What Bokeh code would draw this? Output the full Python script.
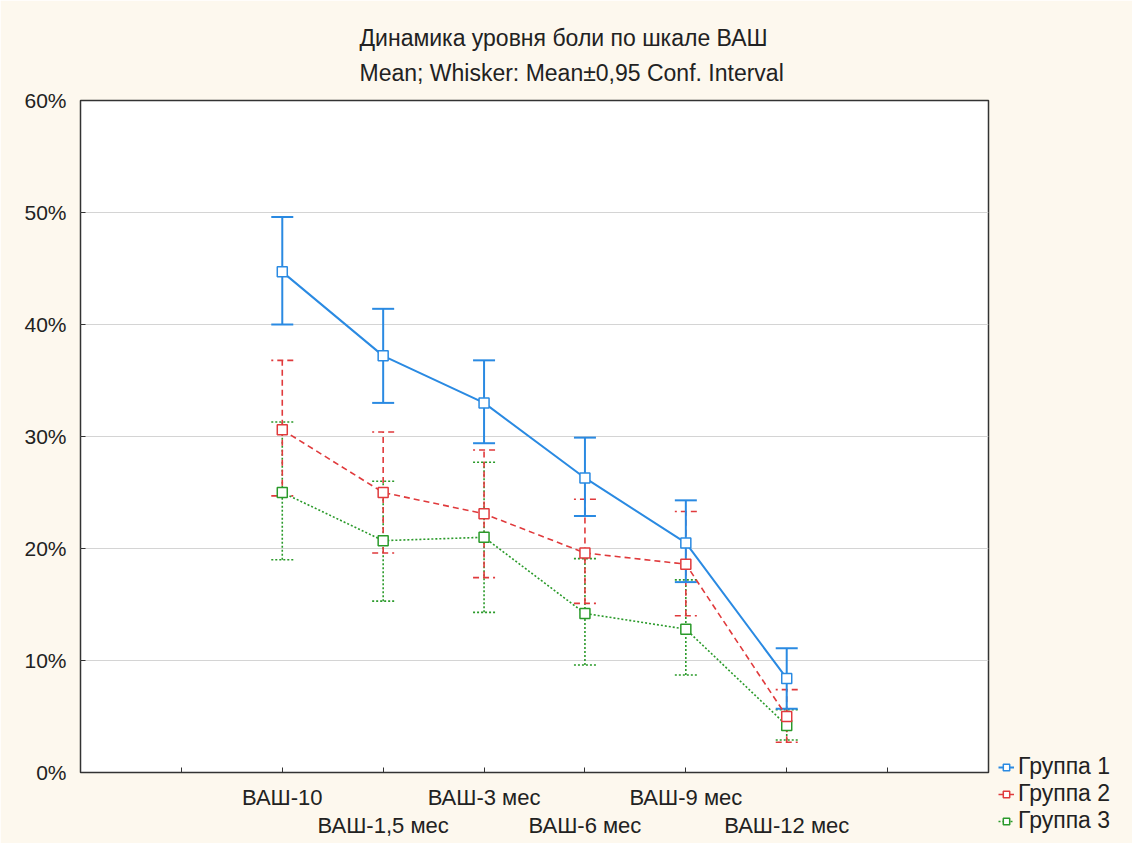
import numpy as np
from bokeh.plotting import figure
from bokeh.models import (ColumnDataSource, Whisker, TeeHead, FixedTicker, LinearAxis,
                          PrintfTickFormatter, Legend, LegendItem, Title, Range1d)
from bokeh.embed import file_html
from bokeh.resources import INLINE

# ---- data ----
categories = ["ВАШ-10", "ВАШ-1,5 мес", "ВАШ-3 мес", "ВАШ-6 мес", "ВАШ-9 мес", "ВАШ-12 мес"]
g1_mean = [44.7, 37.2, 33.0, 26.3, 20.5, 8.4]
g1_low = [40.0, 33.0, 29.4, 22.9, 17.0, 5.7]
g1_up = [49.6, 41.4, 36.8, 29.9, 24.3, 11.1]
g2_mean = [30.6, 25.0, 23.1, 19.6, 18.6, 5.0]
g2_low = [24.7, 19.6, 17.4, 15.1, 14.0, 2.7]
g2_up = [36.8, 30.4, 28.8, 24.4, 23.3, 7.4]
g3_mean = [25.0, 20.7, 21.0, 14.2, 12.8, 4.2]
g3_low = [19.0, 15.3, 14.3, 9.6, 8.7, 2.9]
g3_up = [31.3, 26.0, 27.7, 19.1, 17.2, 5.6]
group_names = ["Группа 1", "Группа 2", "Группа 3"]
y_ticks = [0, 10, 20, 30, 40, 50, 60]
title_lines = ["Динамика уровня боли по шкале ВАШ", "Mean; Whisker: Mean±0,95 Conf. Interval"]

FONT = "Liberation Sans"
FS = "22px"
TXT = "#222222"
BG = "#fdf8ee"

xpos = list(np.arange(len(categories)) + 2)

p = figure(frame_width=908, frame_height=672, output_backend="svg", toolbar_location=None,
           x_range=Range1d(0, len(categories) + 3), y_range=Range1d(0, 60),
           min_border_left=80, min_border_right=144, min_border_top=100, min_border_bottom=71,
           x_axis_location=None, title=None)
p.border_fill_color = BG
p.background_fill_color = "white"
p.outline_line_color = "#333333"
p.outline_line_width = 1.5
p.xgrid.visible = False
p.ygrid.grid_line_color = "#d4d4d4"
p.ygrid.ticker = FixedTicker(ticks=y_ticks)

# y axis
ya = p.yaxis[0]
ya.ticker = FixedTicker(ticks=y_ticks)
ya.formatter = PrintfTickFormatter(format="%d%%")
ya.axis_line_color = None
ya.major_tick_in = 5
ya.major_tick_out = 0
ya.minor_tick_line_color = None
ya.major_tick_line_color = "#333333"
ya.major_label_text_font = FONT
ya.major_label_text_font_size = "21px"
ya.major_label_text_color = TXT
ya.major_label_standoff = 14

# x axes (staggered labels)
ticks1 = list(range(1, len(categories) + 3))
over1 = {t: "" for t in ticks1}
for i, c in enumerate(categories):
    if i % 2 == 0:
        over1[int(xpos[i])] = c
xa1 = LinearAxis(ticker=FixedTicker(ticks=ticks1), major_label_overrides=over1)
xa1.axis_line_color = None
xa1.major_tick_in = 5
xa1.major_tick_out = 0
xa1.minor_tick_line_color = None
xa1.major_tick_line_color = "#333333"
xa1.major_label_text_font = FONT
xa1.major_label_text_font_size = FS
xa1.major_label_text_color = TXT
xa1.major_label_standoff = 12
p.add_layout(xa1, "below")

ticks2 = [int(xpos[i]) for i in range(len(categories)) if i % 2 == 1]
over2 = {int(xpos[i]): categories[i] for i in range(len(categories)) if i % 2 == 1}
xa2 = LinearAxis(ticker=FixedTicker(ticks=ticks2), major_label_overrides=over2)
xa2.axis_line_color = None
xa2.major_tick_line_color = None
xa2.minor_tick_line_color = None
xa2.major_label_text_font = FONT
xa2.major_label_text_font_size = FS
xa2.major_label_text_color = TXT
xa2.major_label_standoff = -6
p.add_layout(xa2, "below")

series = [
    (group_names[0], g1_mean, g1_low, g1_up, "#2a8ae2", "solid", 2.0),
    (group_names[1], g2_mean, g2_low, g2_up, "#e03a3c", "6 4", 1.6),
    (group_names[2], g3_mean, g3_low, g3_up, "#2a9a2a", "2 2", 1.6),
]

items = {}
for name, m, lo, up, col, dash, lw in reversed(series):
    src = ColumnDataSource(dict(x=xpos, m=m, lo=lo, up=up))
    w = Whisker(source=src, base="x", lower="lo", upper="up", line_color=col,
                line_width=lw, line_dash=dash,
                upper_head=TeeHead(size=22, line_color=col, line_width=lw, line_dash=dash),
                lower_head=TeeHead(size=22, line_color=col, line_width=lw, line_dash=dash))
    p.add_layout(w)
    r1 = p.line("x", "m", source=src, line_color=col, line_width=lw, line_dash=dash)
    r2 = p.scatter("x", "m", source=src, marker="square", size=10, fill_color="white",
                   line_color=col, line_width=1.5)
    items[name] = [r1, r2]

legend = Legend(items=[LegendItem(label=n, renderers=items[n]) for n in group_names],
                location=(10, -62), orientation="vertical")
legend.background_fill_alpha = 0
legend.border_line_color = None
legend.label_text_font = FONT
legend.label_text_font_size = "23px"
legend.label_text_color = TXT
legend.glyph_width = 16
legend.glyph_height = 22
legend.label_height = 22
legend.spacing = -5
legend.padding = 0
legend.margin = 0
legend.label_standoff = 4
p.add_layout(legend, "right")

# two-line title
p.add_layout(Title(text="\n".join(title_lines), align="left", offset=279, text_font=FONT,
                   text_font_size="23px", text_font_style="normal", text_color=TXT,
                   text_line_height=1.35, standoff=28), "above")

open("out.html", "w").write(file_html(p, INLINE))
